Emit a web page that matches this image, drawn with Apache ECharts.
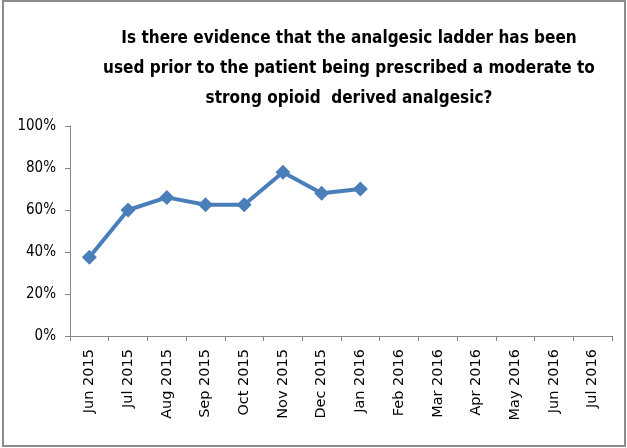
<!DOCTYPE html>
<html>
<head>
<meta charset="utf-8">
<script src="https://cdn.jsdelivr.net/npm/echarts@6/dist/echarts.min.js"></script>
<style>
  html, body { margin: 0; padding: 0; background: #fff; }
  #chart { width: 627px; height: 448px; }
</style>
</head>
<body>
<div id="chart"></div>
<script>
// categories along the x axis
const months = ['Jun 2015', 'Jul 2015', 'Aug 2015', 'Sep 2015', 'Oct 2015', 'Nov 2015', 'Dec 2015',
  'Jan 2016', 'Feb 2016', 'Mar 2016', 'Apr 2016', 'May 2016', 'Jun 2016', 'Jul 2016']
// percent of cases, only filled up to Jan 2016
const evidence = [37.5, 60, 66, 62.5, 62.5, 78, 68, 70, null, null, null, null, null, null]

const titleText = 'Is there evidence that the analgesic ladder has been\nused prior to the patient being prescribed a moderate to\nstrong opioid  derived analgesic?'

const myChart = echarts.init(document.getElementById('chart'))
const option = {
  animation: false,
  backgroundColor: '#fff',
  title: {
    text: titleText,
    left: 344,
    top: 19,
    textAlign: 'center',
    textStyle: {
      fontFamily: 'DejaVu Sans Condensed',
      fontWeight: 'bold',
      fontSize: 17,
      lineHeight: 30,
      color: '#000'
    }
  },
  graphic: [{
    type: 'rect',
    shape: { x: 3, y: 1, width: 622, height: 445 },
    style: { fill: 'none', stroke: '#8c8c8c', lineWidth: 2 },
    silent: true
  }],
  grid: {
    left: 70,
    right: 15,
    top: 126,
    bottom: 112
  },
  xAxis: [{
    type: 'category',
    data: months,
    boundaryGap: true,
    axisLine: { show: true, lineStyle: { color: '#868686', width: 1 } },
    axisTick: { show: true, length: 5, lineStyle: { color: '#868686' } },
    axisLabel: {
      rotate: 90,
      interval: 0,
      margin: 13,
      color: '#000',
      fontFamily: 'DejaVu Sans',
      fontSize: 14.5
    },
    splitLine: { show: false }
  }],
  yAxis: [{
    type: 'value',
    min: 0,
    max: 100,
    interval: 20,
    axisLine: { show: true, lineStyle: { color: '#868686', width: 1 } },
    axisTick: { show: true, length: 5, lineStyle: { color: '#868686' } },
    axisLabel: {
      formatter: '{value}%',
      margin: 14,
      color: '#000',
      fontFamily: 'DejaVu Sans Condensed',
      fontSize: 15
    },
    splitLine: { show: false }
  }],
  series: [{
    name: 'Evidence',
    type: 'line',
    data: evidence,
    symbol: 'diamond',
    symbolSize: 15,
    showAllSymbol: true,
    lineStyle: { color: '#4a7ebb', width: 4 },
    itemStyle: { color: '#4a7ebb' }
  }]
}
myChart.setOption(option)
</script>
</body>
</html>
